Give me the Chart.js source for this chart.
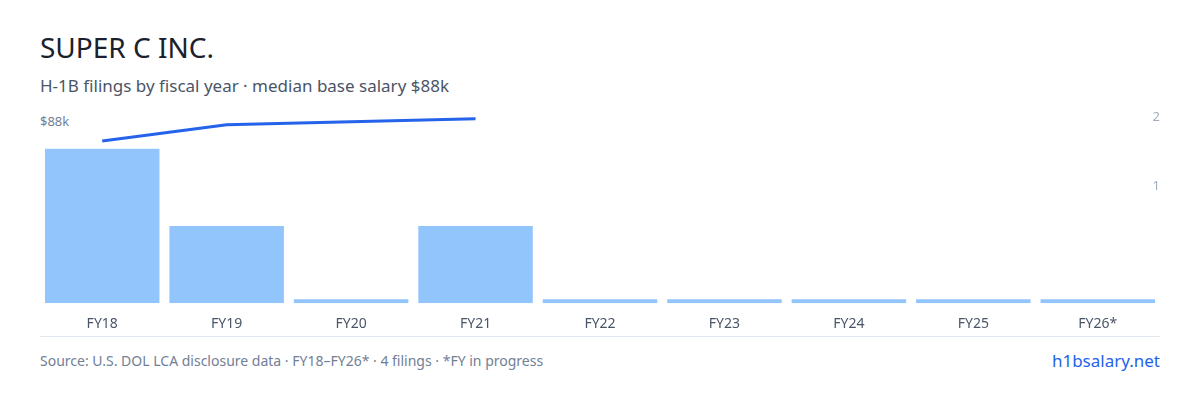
<!DOCTYPE html><html><head><meta charset="utf-8">
<script src="https://cdn.jsdelivr.net/npm/chart.js@4"></script>
<style>
body{margin:0;width:1200px;height:400px;background:#fff;font-family:"Noto Sans",sans-serif;position:relative;overflow:hidden}
.t{position:absolute;left:40px;top:28px;font-size:28px;color:#1a202c}
.s{position:absolute;left:40px;top:74px;font-size:17px;color:#4a5568}
.k{position:absolute;left:40px;top:112px;font-size:13px;color:#718096}
.f{position:absolute;left:40px;top:351px;font-size:14px;color:#718096}
.l{position:absolute;right:40px;top:349px;font-size:17px;color:#2563eb}
.b{position:absolute;left:40px;top:336px;width:1120px;height:1px;background:#e2e8f0}
#w{position:absolute;left:40px;top:110px;width:1120px;height:226px}
</style></head><body>
<div class="t">SUPER C INC.</div>
<div class="s">H-1B filings by fiscal year · median base salary $88k</div>
<div class="k">$88k</div>
<div id="w"><canvas id="c"></canvas></div>
<div class="b"></div>
<div class="f">Source: U.S. DOL LCA disclosure data · FY18–FY26* · 4 filings · *FY in progress</div>
<div class="l">h1bsalary.net</div>
<script>
const categories=["FY18","FY19","FY20","FY21","FY22","FY23","FY24","FY25","FY26*"];
const filings=[2,1,0,1,0,0,0,0,0];
const salaryK=[85,87.2,null,88,null,null,null,null,null];
const countTicks=[1,2];
const rightLabels={id:'rl',afterDraw(ch){const s=ch.scales.y2,c=ch.ctx;c.save();c.font='13px "Noto Sans"';c.fillStyle='#a0aec0';c.textAlign='right';c.textBaseline='middle';countTicks.forEach(v=>c.fillText(String(v),ch.chartArea.right,s.getPixelForValue(v)));c.restore();}};
new Chart(document.getElementById('c'),{data:{labels:categories,datasets:[
{type:'line',data:salaryK,yAxisID:'y1',borderColor:'#2563eb',borderWidth:3,pointRadius:0,spanGaps:true,tension:0},
{type:'bar',data:filings,yAxisID:'y',backgroundColor:'#93c5fd',minBarLength:4,categoryPercentage:0.92,barPercentage:1}
]},options:{responsive:true,maintainAspectRatio:false,animation:false,layout:{padding:0},
plugins:{legend:{display:false},tooltip:{enabled:false}},
scales:{x:{grid:{display:false},border:{display:false},ticks:{color:'#4a5568',font:{size:14,family:'Noto Sans'},padding:4}},
y:{display:false,min:0,max:2.5},
y1:{display:false,min:63,max:89.2},
y2:{display:false,min:-0.7,max:2.11}}},plugins:[rightLabels]});
</script></body></html>
